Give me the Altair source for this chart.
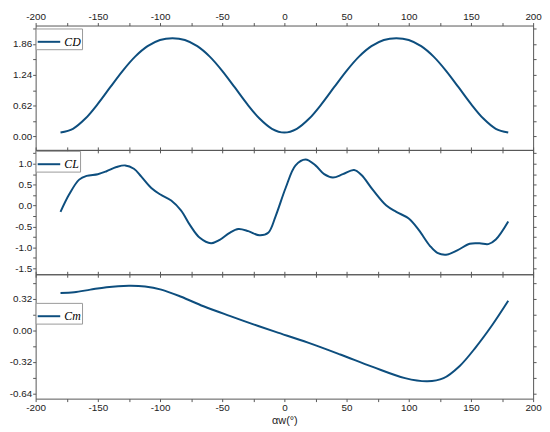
import altair as alt
import pandas as pd

# ---- data ----
alpha_cd = [-180, -170, -160, -150, -140, -130, -120, -110, -100, -90, -80, -70, -60, -50, -40, -30, -20, -10,
            0, 10, 20, 30, 40, 50, 60, 70, 80, 90, 100, 110, 120, 130, 140, 150, 160, 170, 180]
cd = [0.08, 0.155, 0.36, 0.655, 0.99, 1.32, 1.605, 1.815, 1.94, 1.975, 1.94, 1.815, 1.605, 1.32, 0.99, 0.655, 0.36,
      0.155, 0.08, 0.155, 0.36, 0.655, 0.99, 1.32, 1.605, 1.815, 1.94, 1.975, 1.94, 1.815, 1.605, 1.32, 0.99, 0.655,
      0.36, 0.155, 0.08]

alpha_cl = [-180, -173, -165, -159, -150, -143, -135, -128, -121, -115, -107, -100, -91, -83, -76, -68, -59, -52,
            -44, -37, -29, -20, -13, -7, 1, 9, 17, 25, 32, 39, 47, 56, 62, 71, 82, 90, 100, 108, 117, 123, 130,
            139, 149, 157, 164, 170, 180]
cl = [-0.15, 0.27, 0.62, 0.71, 0.75, 0.82, 0.92, 0.96, 0.88, 0.69, 0.42, 0.27, 0.12, -0.12, -0.46, -0.77, -0.90, -0.82,
      -0.65, -0.56, -0.61, -0.71, -0.65, -0.25, 0.42, 0.96, 1.10, 0.96, 0.75, 0.67, 0.75, 0.85, 0.73, 0.38, 0.0,
      -0.15, -0.31, -0.58, -0.96, -1.13, -1.175, -1.07, -0.91, -0.90, -0.92, -0.81, -0.38]

alpha_cm = [-180, -169, -156, -143, -125, -112, -99, -83, -65, -44, -26, -7, 19, 45, 71, 97, 115, 128, 141, 154, 167, 180]
cm = [0.377, 0.384, 0.41, 0.435, 0.449, 0.442, 0.41, 0.338, 0.242, 0.145, 0.065, -0.016, -0.125, -0.245, -0.37,
      -0.483, -0.515, -0.483, -0.36, -0.17, 0.05, 0.297]

series_names = ["CD", "CL", "Cm"]

x_ticks = [-200, -175, -150, -125, -100, -75, -50, -25, 0, 25, 50, 75, 100, 125, 150, 175, 200]
cd_ticks = [0.0, 0.31, 0.62, 0.93, 1.24, 1.55, 1.86, 2.17]
cl_ticks = [-1.5, -1.25, -1.0, -0.75, -0.5, -0.25, 0.0, 0.25, 0.5, 0.75, 1.0, 1.25]
cm_ticks = [-0.64, -0.48, -0.32, -0.16, 0.0, 0.16, 0.32, 0.48]

LINE = "#0d4e7e"
FRAME = "#555555"
W, H = 504, 126

x_label_expr = "datum.value % 50 == 0 ? replace(format(datum.value, 'd'), '\u2212', '-') : ''"


def axis_common(**kw):
    base = dict(grid=False, domain=False, tickSize=3, tickColor=FRAME, labelFont="Liberation Sans",
                labelFontSize=10, labelColor="#222222", labelPadding=1, labelFlush=False, labelOverlap=False)
    base.update(kw)
    return alt.Axis(**base)


def panel(alpha, vals, name, ydom, yticks, ylabel_expr, xpos, legend_y):
    df = pd.DataFrame({"alpha": alpha, "v": vals, "series": name})
    xs = alt.Scale(domain=[-200, 200], nice=False, zero=False)
    ys = alt.Scale(domain=ydom, nice=False, zero=False)

    if xpos == "top":
        x_main_axis = axis_common(orient="top", values=x_ticks, labelExpr=x_label_expr, title=None)
        x_other_axis = axis_common(orient="bottom", values=x_ticks, labels=False, title=None)
    elif xpos == "bottom":
        x_main_axis = axis_common(orient="bottom", values=x_ticks, labelExpr=x_label_expr,
                                  title="\u03b1w(\u00b0)", titleFont="Liberation Sans", titleFontSize=11,
                                  titleFontWeight="normal", titleColor="#222222", titlePadding=2)
        x_other_axis = axis_common(orient="top", values=x_ticks, labels=False, title=None)
    else:
        x_main_axis = axis_common(orient="bottom", values=x_ticks, labels=False, title=None)
        x_other_axis = axis_common(orient="top", values=x_ticks, labels=False, title=None)

    main = alt.Chart(df).mark_line(strokeWidth=2, interpolate="catmull-rom").encode(
        x=alt.X("alpha:Q", scale=xs, axis=x_main_axis),
        y=alt.Y("v:Q", scale=ys, axis=axis_common(orient="left", values=yticks, labelExpr=ylabel_expr, title=None)),
        color=alt.Color("series:N", scale=alt.Scale(domain=[name], range=[LINE]),
                        legend=alt.Legend(title=None, orient="none", legendX=0, legendY=legend_y,
                                          symbolType="stroke", symbolStrokeWidth=2, symbolSize=520,
                                          labelFont="Liberation Serif", labelFontStyle="italic",
                                          labelFontSize=12, labelColor="black", labelOffset=3,
                                          strokeColor="#999999", fillColor="white", padding=1,
                                          cornerRadius=0)),
    )
    other = alt.Chart(df).mark_line(strokeOpacity=0).encode(
        x=alt.X("alpha:Q", scale=xs, axis=x_other_axis),
        y=alt.Y("v:Q", scale=ys, axis=axis_common(orient="right", values=yticks, labels=False, title=None)),
    )
    return alt.layer(main, other).resolve_axis(x="independent", y="independent").properties(width=W, height=H)


cd_expr = "abs(round(datum.value / 0.31)) % 2 == 0 ? replace(format(datum.value, '.2f'), '\u2212', '-') : ''"
cl_expr = "abs(round(datum.value * 4)) % 2 == 0 ? replace(format(datum.value, '.1f'), '\u2212', '-') : ''"
cm_expr = "abs(round(datum.value / 0.16)) % 2 == 0 ? replace(format(datum.value, '.2f'), '\u2212', '-') : ''"

p1 = panel(alpha_cd, cd, series_names[0], [-0.27, 2.23], cd_ticks, cd_expr, "top", 3)
p2 = panel(alpha_cl, cl, series_names[1], [-1.64, 1.33], cl_ticks, cl_expr, "mid", 1)
p3 = panel(alpha_cm, cm, series_names[2], [-0.69, 0.565], cm_ticks, cm_expr, "bottom", 29)

chart = alt.vconcat(p1, p2, p3, spacing=0, bounds="flush").resolve_scale(
    color="independent"
).resolve_legend(color="independent").properties(padding=0).configure_view(stroke=FRAME, strokeWidth=1)

chart.save("out.html", embed_options={"renderer": "svg", "actions": False})
